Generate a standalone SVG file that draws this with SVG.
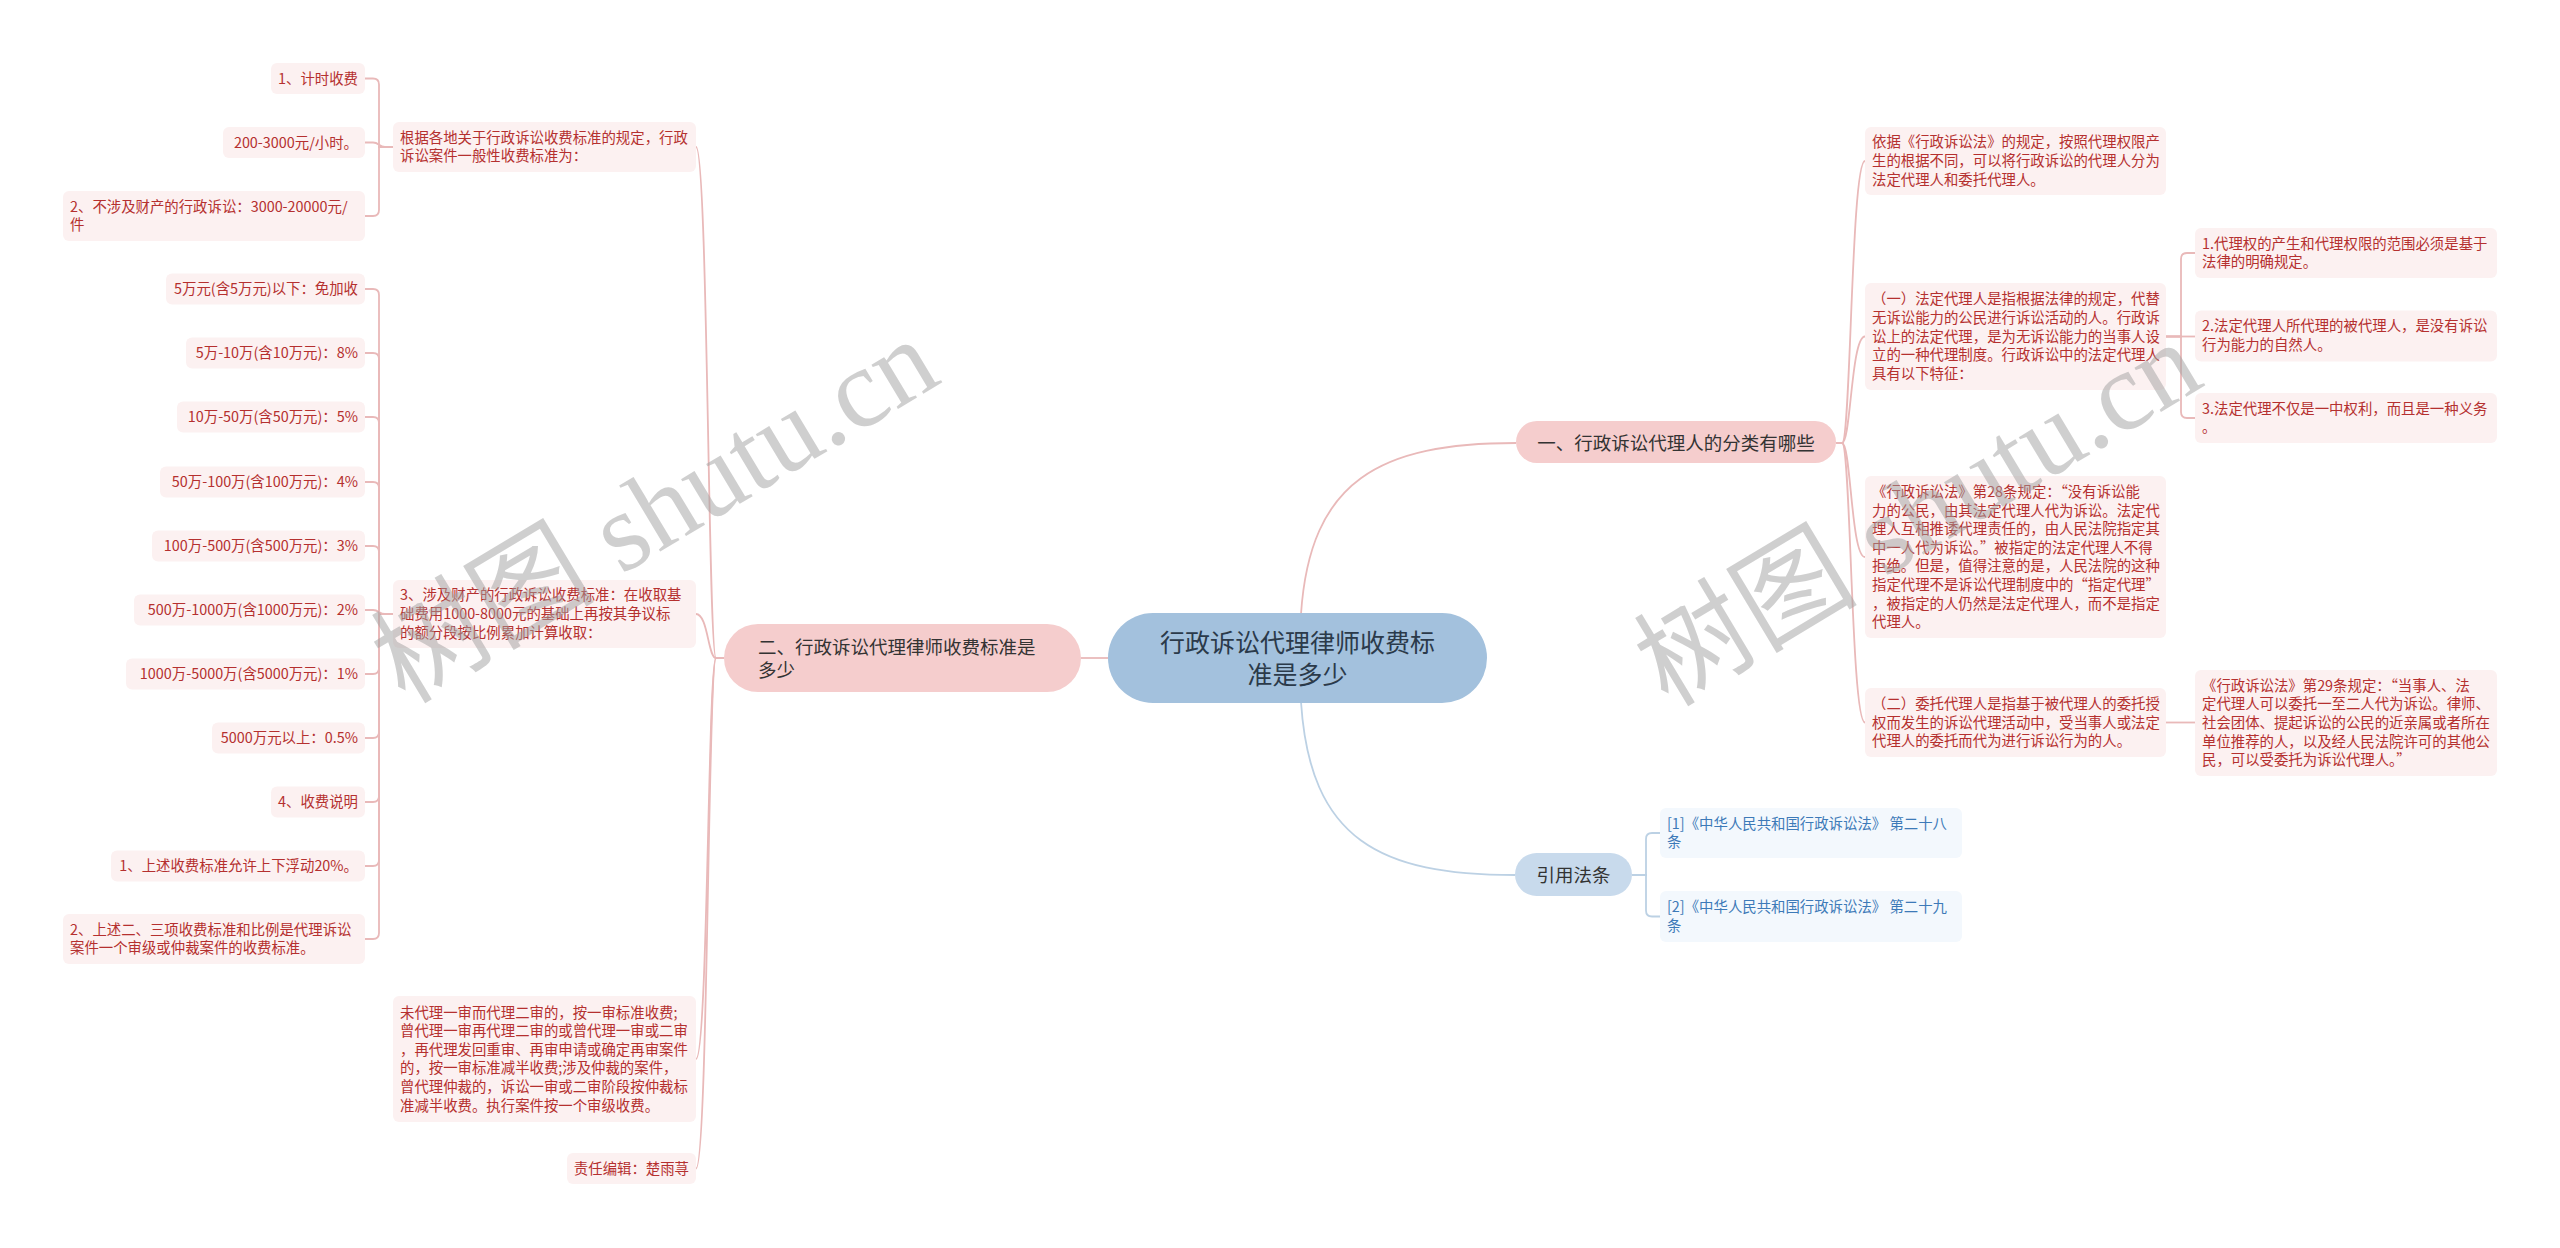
<svg xmlns="http://www.w3.org/2000/svg" width="2560" height="1248" viewBox="0 0 2560 1248">
<style>
text{font-family:"Noto Sans CJK SC","Noto Sans",sans-serif}
.lf{fill:#fcf1f1}
.rf{fill:#f3f8fd}
.lt{font-size:14.4px;fill:#b5302f}
.bt{font-size:14.4px;fill:#3d7ab8}
.e{text-anchor:end}
.cp{fill:none;stroke:#e9b9b9;stroke-width:1.8}
.cb{fill:none;stroke:#bcd1e4;stroke-width:1.8}
.nt{font-size:18.5px;fill:#333}
.wm{font-family:"Liberation Serif","Noto Sans CJK SC",serif;font-size:112px;fill:#a0a0a0;fill-opacity:0.5}
</style>
<rect width="2560" height="1248" fill="#ffffff"/>
<g id="connectors">
<path class="cp" d="M1108 658 H1081"/>
<path class="cp" d="M1301 614 C1310 480 1380 443 1516 443"/>
<path class="cb" d="M1301 702 C1310 840 1380 875 1515 875"/>
<path class="cp" d="M724 658 H716 C708 658 708 147 696 147"/>
<path class="cp" d="M724 658 H716 C708 658 708 614 696 614"/>
<path class="cp" d="M724 658 H716 C708 658 708 1059 696 1059"/>
<path class="cp" d="M724 658 H716 C708 658 708 1168.5 696 1168.5"/>
<path class="cp" d="M393 147 H379 V84.5 Q379 78.5 373 78.5 H365"/>
<path class="cp" d="M393 147 H385 C379 147 379 142.5 373 142.5 H365"/>
<path class="cp" d="M393 147 H379 V210 Q379 216 373 216 H365"/>
<path class="cp" d="M393 614 H379 V295 Q379 289 373 289 H365"/>
<path class="cp" d="M393 614 H379 V359 Q379 353 373 353 H365"/>
<path class="cp" d="M393 614 H379 V423 Q379 417 373 417 H365"/>
<path class="cp" d="M393 614 H379 V488 Q379 482 373 482 H365"/>
<path class="cp" d="M393 614 H379 V552 Q379 546 373 546 H365"/>
<path class="cp" d="M393 614 H385 C379 614 379 610 373 610 H365"/>
<path class="cp" d="M393 614 H379 V668 Q379 674 373 674 H365"/>
<path class="cp" d="M393 614 H379 V732 Q379 738 373 738 H365"/>
<path class="cp" d="M393 614 H379 V796 Q379 802 373 802 H365"/>
<path class="cp" d="M393 614 H379 V860 Q379 866 373 866 H365"/>
<path class="cp" d="M393 614 H379 V933 Q379 939 373 939 H365"/>
<path class="cp" d="M1836 443 H1842 C1851 443 1851 161 1865 161"/>
<path class="cp" d="M1836 443 H1842 C1851 443 1851 336.5 1865 336.5"/>
<path class="cp" d="M1836 443 H1842 C1851 443 1851 557 1865 557"/>
<path class="cp" d="M1836 443 H1842 C1851 443 1851 722.5 1865 722.5"/>
<path class="cp" d="M2166 336.5 H2181 V259 Q2181 253 2187 253 H2195"/>
<path class="cp" d="M2166 336.5 H2195"/>
<path class="cp" d="M2166 336.5 H2181 V412 Q2181 418 2187 418 H2195"/>
<path class="cp" d="M2166 722.5 H2195"/>
<path class="cb" d="M1632 875 H1646 V839 Q1646 833 1652 833 H1660"/>
<path class="cb" d="M1632 875 H1646 V910.5 Q1646 916.5 1652 916.5 H1660"/>
</g>
<g id="root">
<rect x="1108" y="613" width="379" height="90" rx="45" fill="#a3c1dd"/>
<text x="1297.5" y="652" font-size="25" fill="#2b3a4a" text-anchor="middle">行政诉讼代理律师收费标</text>
<text x="1297.5" y="684" font-size="25" fill="#2b3a4a" text-anchor="middle">准是多少</text>
</g>
<g id="n-fee">
<rect x="724" y="624" width="357" height="68" rx="34" fill="#f5cdcd"/>
<text class="nt" x="758" y="654">二、行政诉讼代理律师收费标准是</text>
<text class="nt" x="758" y="677">多少</text>
</g>
<g id="n-a">
<rect class="lf" x="393" y="122" width="303" height="50" rx="6"/>
<text class="lt" x="400" y="142.7">根据各地关于行政诉讼收费标准的规定，行政</text>
<text class="lt" x="400" y="161.3">诉讼案件一般性收费标准为：</text>
</g>
<g id="n-a1"><rect class="lf" x="271" y="63" width="94" height="31" rx="6"/><text class="lt e" x="358" y="83.5">1、计时收费</text></g>
<g id="n-a2"><rect class="lf" x="223" y="127" width="142" height="31" rx="6"/><text class="lt e" x="358" y="147.5">200-3000元/小时。</text></g>
<g id="n-a3"><rect class="lf" x="63" y="191" width="302" height="50" rx="6"/><text class="lt" x="70" y="211.7">2、不涉及财产的行政诉讼：3000-20000元/</text><text class="lt" x="70" y="230.3">件</text></g>
<g id="n-b">
<rect class="lf" x="393" y="580" width="303" height="68" rx="6"/>
<text class="lt" x="400" y="600.4">3、涉及财产的行政诉讼收费标准：在收取基</text>
<text class="lt" x="400" y="619">础费用1000-8000元的基础上再按其争议标</text>
<text class="lt" x="400" y="637.6">的额分段按比例累加计算收取：</text>
</g>
<g id="n-b1"><rect class="lf" x="166" y="273.5" width="199" height="31" rx="6"/><text class="lt e" x="358" y="294">5万元(含5万元)以下：免加收</text></g>
<g id="n-b2"><rect class="lf" x="186" y="337.5" width="179" height="31" rx="6"/><text class="lt e" x="358" y="358">5万-10万(含10万元)：8%</text></g>
<g id="n-b3"><rect class="lf" x="177" y="401.5" width="188" height="31" rx="6"/><text class="lt e" x="358" y="422">10万-50万(含50万元)：5%</text></g>
<g id="n-b4"><rect class="lf" x="160" y="466.5" width="205" height="31" rx="6"/><text class="lt e" x="358" y="487">50万-100万(含100万元)：4%</text></g>
<g id="n-b5"><rect class="lf" x="152" y="530.5" width="213" height="31" rx="6"/><text class="lt e" x="358" y="551">100万-500万(含500万元)：3%</text></g>
<g id="n-b6"><rect class="lf" x="134" y="594.5" width="231" height="31" rx="6"/><text class="lt e" x="358" y="615">500万-1000万(含1000万元)：2%</text></g>
<g id="n-b7"><rect class="lf" x="126" y="658.5" width="239" height="31" rx="6"/><text class="lt e" x="358" y="679">1000万-5000万(含5000万元)：1%</text></g>
<g id="n-b8"><rect class="lf" x="212" y="722.5" width="153" height="31" rx="6"/><text class="lt e" x="358" y="743">5000万元以上：0.5%</text></g>
<g id="n-b9"><rect class="lf" x="271" y="786.5" width="94" height="31" rx="6"/><text class="lt e" x="358" y="807">4、收费说明</text></g>
<g id="n-b10"><rect class="lf" x="111" y="850.5" width="254" height="31" rx="6"/><text class="lt e" x="358" y="871">1、上述收费标准允许上下浮动20%。</text></g>
<g id="n-b11"><rect class="lf" x="63" y="914" width="302" height="50" rx="6"/><text class="lt" x="70" y="934.7">2、上述二、三项收费标准和比例是代理诉讼</text><text class="lt" x="70" y="953.3">案件一个审级或仲裁案件的收费标准。</text></g>
<g id="n-c">
<rect class="lf" x="393" y="996" width="303" height="126" rx="6"/>
<text class="lt" x="400" y="1017.5">未代理一审而代理二审的，按一审标准收费;</text>
<text class="lt" x="400" y="1036.1">曾代理一审再代理二审的或曾代理一审或二审</text>
<text class="lt" x="400" y="1054.7">，再代理发回重审、再审申请或确定再审案件</text>
<text class="lt" x="400" y="1073.3">的，按一审标准减半收费;涉及仲裁的案件，</text>
<text class="lt" x="400" y="1091.9">曾代理仲裁的，诉讼一审或二审阶段按仲裁标</text>
<text class="lt" x="400" y="1110.5">准减半收费。执行案件按一个审级收费。</text>
</g>
<g id="n-d"><rect class="lf" x="567" y="1153" width="129" height="31" rx="6"/><text class="lt e" x="689" y="1173.5">责任编辑：楚雨荨</text></g>
<g id="n-types">
<rect x="1516" y="421" width="320" height="42" rx="21" fill="#f5cdcd"/>
<text class="nt" x="1676" y="450" text-anchor="middle">一、行政诉讼代理人的分类有哪些</text>
</g>
<g id="n-e1">
<rect class="lf" x="1865" y="127" width="301" height="68" rx="6"/>
<text class="lt" x="1872" y="147.4">依据《行政诉讼法》的规定，按照代理权限产</text>
<text class="lt" x="1872" y="166">生的根据不同，可以将行政诉讼的代理人分为</text>
<text class="lt" x="1872" y="184.6">法定代理人和委托代理人。</text>
</g>
<g id="n-e2">
<rect class="lf" x="1865" y="283" width="301" height="107" rx="6"/>
<text class="lt" x="1872" y="304.3">（一）法定代理人是指根据法律的规定，代替</text>
<text class="lt" x="1872" y="322.9">无诉讼能力的公民进行诉讼活动的人。行政诉</text>
<text class="lt" x="1872" y="341.5">讼上的法定代理，是为无诉讼能力的当事人设</text>
<text class="lt" x="1872" y="360.1">立的一种代理制度。行政诉讼中的法定代理人</text>
<text class="lt" x="1872" y="378.7">具有以下特征：</text>
</g>
<g id="n-e2a">
<rect class="lf" x="2195" y="228" width="302" height="50" rx="6"/>
<text class="lt" x="2202" y="248.7">1.代理权的产生和代理权限的范围必须是基于</text>
<text class="lt" x="2202" y="267.3">法律的明确规定。</text>
</g>
<g id="n-e2b">
<rect class="lf" x="2195" y="310.5" width="302" height="51" rx="6"/>
<text class="lt" x="2202" y="331.2">2.法定代理人所代理的被代理人，是没有诉讼</text>
<text class="lt" x="2202" y="349.8">行为能力的自然人。</text>
</g>
<g id="n-e2c">
<rect class="lf" x="2195" y="393" width="302" height="50" rx="6"/>
<text class="lt" x="2202" y="413.7">3.法定代理不仅是一中权利，而且是一种义务</text>
<text class="lt" x="2202" y="432.3">。</text>
</g>
<g id="n-e3">
<rect class="lf" x="1865" y="476" width="301" height="162" rx="6"/>
<text class="lt" x="1872" y="496.9">《行政诉讼法》第28条规定：“没有诉讼能</text>
<text class="lt" x="1872" y="515.5">力的公民，由其法定代理人代为诉讼。法定代</text>
<text class="lt" x="1872" y="534.1">理人互相推诿代理责任的，由人民法院指定其</text>
<text class="lt" x="1872" y="552.7">中一人代为诉讼。”被指定的法定代理人不得</text>
<text class="lt" x="1872" y="571.3">拒绝。但是，值得注意的是，人民法院的这种</text>
<text class="lt" x="1872" y="589.9">指定代理不是诉讼代理制度中的“指定代理”</text>
<text class="lt" x="1872" y="608.5">，被指定的人仍然是法定代理人，而不是指定</text>
<text class="lt" x="1872" y="627.1">代理人。</text>
</g>
<g id="n-e4">
<rect class="lf" x="1865" y="688" width="301" height="69" rx="6"/>
<text class="lt" x="1872" y="708.9">（二）委托代理人是指基于被代理人的委托授</text>
<text class="lt" x="1872" y="727.5">权而发生的诉讼代理活动中，受当事人或法定</text>
<text class="lt" x="1872" y="746.1">代理人的委托而代为进行诉讼行为的人。</text>
</g>
<g id="n-e4a">
<rect class="lf" x="2195" y="670" width="302" height="106" rx="6"/>
<text class="lt" x="2202" y="690.8">《行政诉讼法》第29条规定：“当事人、法</text>
<text class="lt" x="2202" y="709.4">定代理人可以委托一至二人代为诉讼。律师、</text>
<text class="lt" x="2202" y="728">社会团体、提起诉讼的公民的近亲属或者所在</text>
<text class="lt" x="2202" y="746.6">单位推荐的人，以及经人民法院许可的其他公</text>
<text class="lt" x="2202" y="765.2">民，可以受委托为诉讼代理人。”</text>
</g>
<g id="n-refs">
<rect x="1515" y="853" width="117" height="43" rx="21.5" fill="#c8daec"/>
<text class="nt" x="1573.5" y="881.5" text-anchor="middle">引用法条</text>
</g>
<g id="n-ref1">
<rect class="rf" x="1660" y="808" width="302" height="50" rx="6"/>
<text class="bt" x="1667" y="828.7">[1]《中华人民共和国行政诉讼法》 第二十八</text>
<text class="bt" x="1667" y="847.3">条</text>
</g>
<g id="n-ref2">
<rect class="rf" x="1660" y="891" width="302" height="51" rx="6"/>
<text class="bt" x="1667" y="912.2">[2]《中华人民共和国行政诉讼法》 第二十九</text>
<text class="bt" x="1667" y="930.8">条</text>
</g>
<g id="watermark">
<text class="wm" x="405" y="705" transform="rotate(-31 405 705)">树图 shutu.cn</text>
<text class="wm" x="1668" y="708" transform="rotate(-31 1668 708)">树图 shutu.cn</text>
</g>
</svg>
